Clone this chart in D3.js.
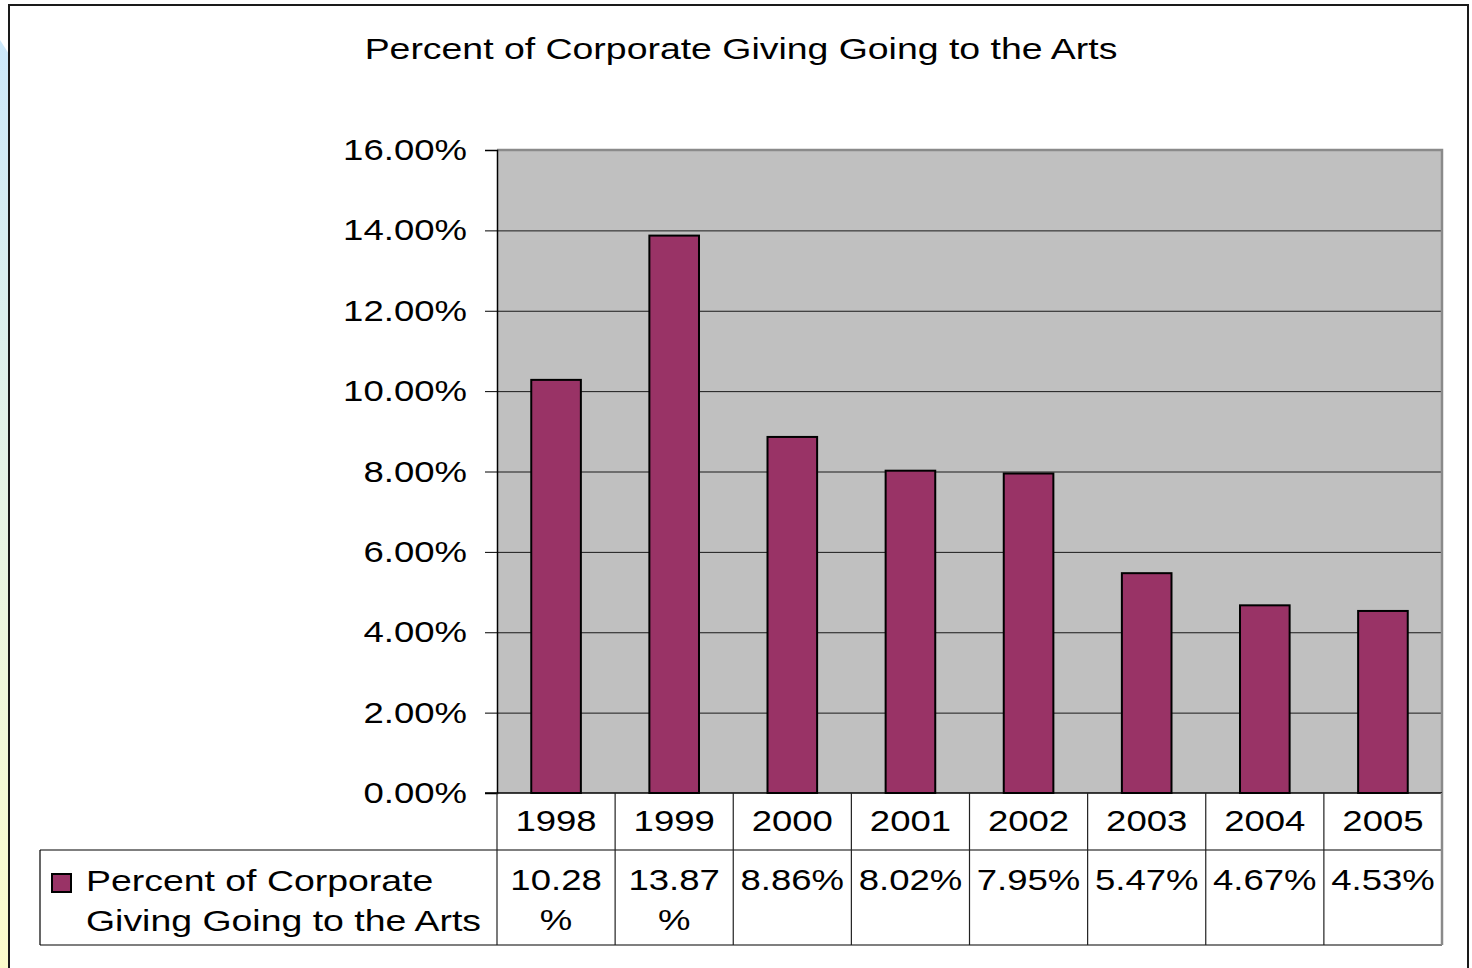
<!DOCTYPE html>
<html>
<head>
<meta charset="utf-8">
<script src="https://cdn.jsdelivr.net/npm/d3@7"></script>
<style>
  html, body { margin: 0; padding: 0; background: #ffffff; overflow: hidden; }
  svg { display: block; }
  text { font-family: "Liberation Sans", Arial, sans-serif; fill: #000; }
</style>
</head>
<body>
<svg id="chart" width="1472" height="968"></svg>
<script>
// ---- data ----
const title = "Percent of Corporate Giving Going to the Arts";
const seriesName = "Percent of Corporate Giving Going to the Arts";
const years = ["1998", "1999", "2000", "2001", "2002", "2003", "2004", "2005"];
const values = [10.28, 13.87, 8.86, 8.02, 7.95, 5.47, 4.67, 4.53];
const yTicks = [0, 2, 4, 6, 8, 10, 12, 14, 16];
const legendLines = ["Percent of Corporate", "Giving Going to the Arts"];

// ---- layout ----
const W = 1472, H = 968;
const FS = 29, SX = 1.26, SXW = 1.29;   // font size and horizontal stretch of text
const plot = { left: 497, right: 1442, top: 150, bottom: 793 };
const row1Bottom = 850, row2Bottom = 945, legendLeft = 40;
const barColor = "#993366";

const svg = d3.select("#chart");

// slide background strip at left
const defs = svg.append("defs");
const grad = defs.append("linearGradient").attr("id", "bg").attr("x1", 0).attr("y1", 0).attr("x2", 0).attr("y2", 1);
grad.append("stop").attr("offset", "0%").attr("stop-color", "#cce8fa");
grad.append("stop").attr("offset", "50%").attr("stop-color", "#e6f4e4");
grad.append("stop").attr("offset", "100%").attr("stop-color", "#fcfccb");
svg.append("path")
  .attr("d", `M0,40 L9,54 L9,${H} L0,${H} Z`)
  .attr("fill", "url(#bg)");

// chart outer frame
svg.append("rect")
  .attr("x", 9).attr("y", 5).attr("width", 1459).attr("height", 1100)
  .attr("fill", "#ffffff").attr("stroke", "#1a1a1a").attr("stroke-width", 2);

function stretchedText(g, x, y, str, anchor, sx) {
  return g.append("g")
    .attr("transform", `translate(${x},${y}) scale(${sx || SX},1)`)
    .append("text")
    .attr("x", 0).attr("y", 0)
    .attr("text-anchor", anchor || "start")
    .style("font-size", FS + "px")
    .text(str);
}

// title
stretchedText(svg, 741, 59, title, "middle", SXW);

// scales
const x = d3.scaleBand().domain(years).range([plot.left, plot.right]).padding(0);
const y = d3.scaleLinear().domain([0, 16]).range([plot.bottom, plot.top]);

// plot area background
svg.append("rect")
  .attr("x", plot.left).attr("y", plot.top)
  .attr("width", plot.right - plot.left).attr("height", plot.bottom - plot.top)
  .attr("fill", "#c0c0c0");

// gridlines
svg.append("g").selectAll("line").data(yTicks.filter(t => t > 0 && t < 16)).join("line")
  .attr("x1", plot.left).attr("x2", plot.right)
  .attr("y1", d => y(d) + 0.5).attr("y2", d => y(d) + 0.5)
  .attr("stroke", "#1a1a1a").attr("stroke-width", 1);

// plot border top/right (gray)
svg.append("path")
  .attr("d", `M${plot.left},${plot.top} L${plot.right},${plot.top} L${plot.right},${plot.bottom}`)
  .attr("fill", "none").attr("stroke", "#8a8a8a").attr("stroke-width", 2.5);

// bars
const bw = x.bandwidth() * 0.42;
svg.append("g").selectAll("rect").data(values).join("rect")
  .attr("x", (d, i) => x(years[i]) + (x.bandwidth() - bw) / 2)
  .attr("y", d => y(d))
  .attr("width", bw)
  .attr("height", d => y(0) - y(d))
  .attr("fill", barColor)
  .attr("stroke", "#000").attr("stroke-width", 2);

// y axis
const yAxis = d3.axisLeft(y).tickValues(yTicks).tickSize(12).tickFormat("");
const ya = svg.append("g").attr("transform", `translate(${plot.left},0)`).call(yAxis);
ya.select(".domain").attr("stroke", "#000").attr("stroke-width", 1.5);
ya.selectAll(".tick line").attr("stroke", "#000").attr("stroke-width", 1);
yTicks.forEach(t => {
  stretchedText(svg, 467, y(t) + 10, t.toFixed(2) + "%", "end");
});

// x axis line
svg.append("line")
  .attr("x1", plot.left - 12).attr("x2", plot.right)
  .attr("y1", plot.bottom).attr("y2", plot.bottom)
  .attr("stroke", "#000").attr("stroke-width", 1.5);

// data table
const tbl = svg.append("g");
tbl.append("line").attr("x1", legendLeft).attr("x2", plot.right)
  .attr("y1", row1Bottom).attr("y2", row1Bottom).attr("stroke", "#000").attr("stroke-width", 1.2);
tbl.append("line").attr("x1", legendLeft).attr("x2", plot.right)
  .attr("y1", row2Bottom).attr("y2", row2Bottom).attr("stroke", "#000").attr("stroke-width", 1.2);
tbl.append("line").attr("x1", legendLeft).attr("x2", legendLeft)
  .attr("y1", row1Bottom).attr("y2", row2Bottom).attr("stroke", "#000").attr("stroke-width", 1.2);
const bounds = years.map(yr => x(yr)).concat([plot.right]);
tbl.selectAll("line.col").data(bounds).join("line").attr("class", "col")
  .attr("x1", d => d).attr("x2", d => d)
  .attr("y1", plot.bottom).attr("y2", row2Bottom)
  .attr("stroke", (d, i) => i === bounds.length - 1 ? "#8a8a8a" : "#222")
  .attr("stroke-width", (d, i) => i === bounds.length - 1 ? 2.5 : 1.2);

// year labels
years.forEach(yr => {
  stretchedText(tbl, x(yr) + x.bandwidth() / 2, 831, yr, "middle");
});

// value labels (wrap like the source when too wide)
values.forEach((v, i) => {
  const cx = x(years[i]) + x.bandwidth() / 2;
  const full = v.toFixed(2) + "%";
  const t = stretchedText(tbl, cx, 890, full, "middle");
  const w = t.node().getComputedTextLength() * SX;
  if (w > x.bandwidth() - 6) {
    t.text(v.toFixed(2));
    stretchedText(tbl, cx, 930, "%", "middle");
  }
});

// legend
tbl.append("rect")
  .attr("x", 52).attr("y", 874).attr("width", 19).attr("height", 18)
  .attr("fill", barColor).attr("stroke", "#000").attr("stroke-width", 2);
stretchedText(tbl, 86, 891, legendLines[0], "start", SXW);
stretchedText(tbl, 86, 931, legendLines[1], "start", SXW);
</script>
</body>
</html>
